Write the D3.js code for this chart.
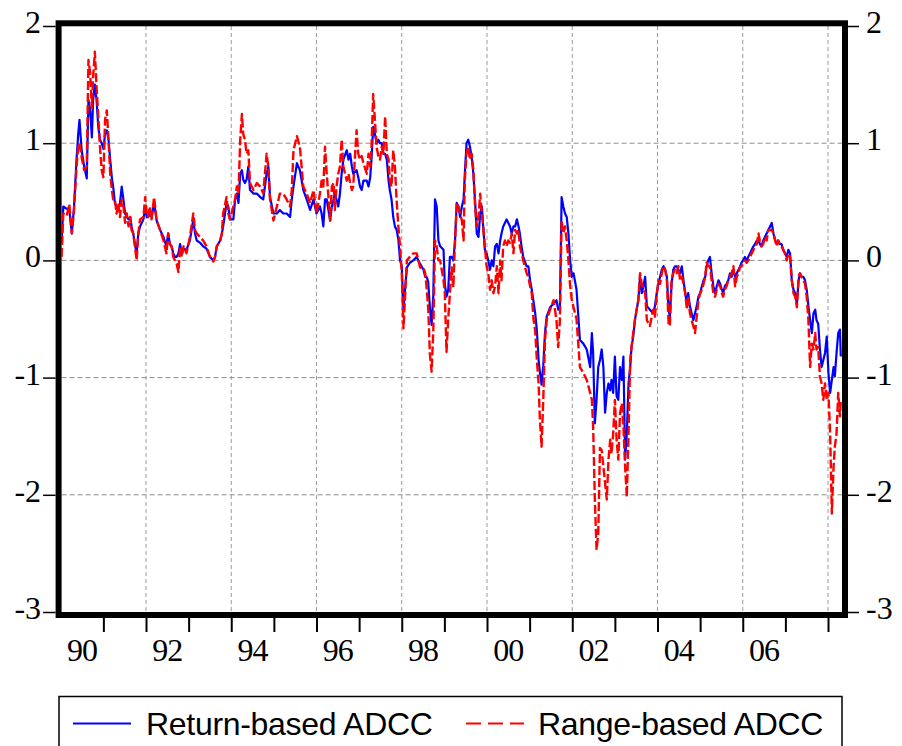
<!DOCTYPE html>
<html>
<head>
<meta charset="utf-8">
<script src="https://cdn.jsdelivr.net/npm/d3@7"></script>
<style>
  html, body { margin: 0; padding: 0; background: #fff; }
  svg { display: block; }
</style>
</head>
<body>
<svg id="chart" width="902" height="746"></svg>
<script>
// Observation dates (decimal years)
const dates = [
  1990.02,1990.06,1990.14,1990.20,1990.26,1990.31,1990.37,1990.41,1990.44,1990.49,
  1990.55,1990.61,1990.65,1990.69,1990.73,1990.76,1990.80,1990.84,1990.88,1990.92,
  1990.96,1991.00,1991.04,1991.08,1991.12,1991.16,1991.20,1991.23,1991.27,1991.31,
  1991.35,1991.39,1991.43,1991.47,1991.51,1991.55,1991.59,1991.63,1991.66,1991.70,
  1991.74,1991.78,1991.82,1991.86,1991.94,1991.98,1992.02,1992.05,1992.09,1992.13,
  1992.19,1992.25,1992.33,1992.41,1992.48,1992.52,1992.56,1992.60,1992.64,1992.68,
  1992.72,1992.76,1992.80,1992.84,1992.88,1992.95,1993.03,1993.11,1993.15,1993.19,
  1993.27,1993.34,1993.42,1993.50,1993.58,1993.62,1993.66,1993.74,1993.78,1993.81,
  1993.89,1993.93,1993.97,1994.05,1994.09,1994.13,1994.17,1994.21,1994.25,1994.28,
  1994.32,1994.36,1994.40,1994.44,1994.52,1994.60,1994.68,1994.75,1994.83,1994.87,
  1994.91,1994.99,1995.07,1995.14,1995.22,1995.30,1995.38,1995.42,1995.46,1995.54,
  1995.61,1995.69,1995.77,1995.85,1995.93,1996.00,1996.08,1996.12,1996.16,1996.20,
  1996.24,1996.32,1996.36,1996.40,1996.43,1996.47,1996.51,1996.55,1996.59,1996.63,
  1996.71,1996.75,1996.79,1996.83,1996.86,1996.94,1996.98,1997.02,1997.06,1997.10,
  1997.18,1997.22,1997.26,1997.29,1997.33,1997.37,1997.41,1997.45,1997.49,1997.53,
  1997.57,1997.61,1997.65,1997.69,1997.72,1997.76,1997.80,1997.84,1997.88,1997.92,
  1997.96,1998.00,1998.04,1998.12,1998.19,1998.27,1998.35,1998.43,1998.51,1998.55,
  1998.58,1998.62,1998.66,1998.70,1998.74,1998.78,1998.82,1998.86,1998.90,1998.98,
  1999.01,1999.05,1999.09,1999.13,1999.17,1999.21,1999.25,1999.29,1999.33,1999.37,
  1999.41,1999.45,1999.48,1999.52,1999.56,1999.60,1999.64,1999.68,1999.72,1999.76,
  1999.80,1999.84,1999.88,1999.91,1999.95,1999.99,2000.03,2000.07,2000.11,2000.15,
  2000.19,2000.23,2000.27,2000.31,2000.34,2000.38,2000.42,2000.46,2000.50,2000.54,
  2000.58,2000.62,2000.66,2000.70,2000.74,2000.77,2000.81,2000.85,2000.93,2000.97,
  2001.01,2001.05,2001.09,2001.13,2001.17,2001.21,2001.24,2001.28,2001.32,2001.36,
  2001.40,2001.48,2001.56,2001.63,2001.67,2001.71,2001.75,2001.79,2001.83,2001.87,
  2001.91,2001.95,2001.99,2002.03,2002.10,2002.18,2002.26,2002.34,2002.42,2002.46,
  2002.49,2002.53,2002.57,2002.61,2002.65,2002.69,2002.73,2002.77,2002.81,2002.85,
  2002.89,2002.92,2002.96,2003.00,2003.04,2003.08,2003.12,2003.16,2003.20,2003.24,
  2003.28,2003.32,2003.36,2003.39,2003.43,2003.47,2003.51,2003.55,2003.59,2003.63,
  2003.67,2003.71,2003.75,2003.82,2003.90,2003.94,2003.98,2004.02,2004.06,2004.10,
  2004.14,2004.18,2004.22,2004.26,2004.29,2004.33,2004.37,2004.41,2004.45,2004.49,
  2004.53,2004.57,2004.61,2004.65,2004.69,2004.72,2004.76,2004.80,2004.84,2004.88,
  2004.92,2004.96,2005.00,2005.04,2005.08,2005.12,2005.15,2005.19,2005.23,2005.27,
  2005.31,2005.35,2005.39,2005.43,2005.47,2005.51,2005.54,2005.58,2005.62,2005.66,
  2005.70,2005.74,2005.78,2005.82,2005.86,2005.90,2005.94,2005.97,2006.01,2006.05,
  2006.09,2006.13,2006.17,2006.21,2006.25,2006.29,2006.33,2006.37,2006.40,2006.44,
  2006.48,2006.52,2006.56,2006.60,2006.64,2006.68,2006.72,2006.76,2006.80,2006.83,
  2006.87,2006.91,2006.95,2006.99,2007.03,2007.07,2007.11,2007.15,2007.19,2007.23,
  2007.27,2007.31,2007.34,2007.38,2007.42,2007.46,2007.50,2007.54,2007.58,2007.62,
  2007.66,2007.70,2007.73,2007.77,2007.81,2007.85,2007.89,2007.93,2007.97,2008.01,
  2008.05,2008.09,2008.13,2008.16,2008.20,2008.24,2008.28,2008.30
];

// Return-based ADCC
const returnBased = [
  0.15,0.46,0.44,0.43,0.23,0.45,0.86,1.08,1.20,0.94,
  0.80,0.70,1.37,1.28,1.05,1.37,1.50,1.37,1.14,1.03,
  1.00,0.95,1.08,1.11,1.03,0.86,0.70,0.63,0.49,0.46,
  0.43,0.49,0.63,0.52,0.40,0.37,0.35,0.37,0.29,0.23,
  0.14,0.06,0.23,0.29,0.35,0.46,0.37,0.37,0.40,0.37,
  0.49,0.34,0.26,0.20,0.12,0.23,0.14,0.12,0.06,0.03,
  0.03,0.06,0.14,0.06,0.10,0.09,0.17,0.35,0.23,0.17,
  0.15,0.12,0.10,0.03,0.00,0.03,0.12,0.17,0.23,0.29,
  0.49,0.46,0.35,0.35,0.52,0.57,0.49,0.74,0.77,0.69,
  0.66,0.69,0.80,0.60,0.57,0.57,0.54,0.52,0.74,0.80,
  0.54,0.40,0.40,0.43,0.40,0.40,0.37,0.52,0.63,0.83,
  0.77,0.60,0.52,0.43,0.52,0.40,0.46,0.40,0.29,0.52,
  0.52,0.34,0.46,0.52,0.57,0.52,0.46,0.57,0.74,0.86,
  0.94,0.86,0.91,0.80,0.74,0.77,0.71,0.63,0.60,0.68,
  0.68,0.63,0.71,0.86,1.14,1.08,1.00,1.03,1.00,1.00,
  0.91,0.91,0.86,0.68,0.60,0.52,0.37,0.29,0.26,0.18,
  0.00,-0.05,-0.42,-0.06,-0.02,0.00,0.03,-0.03,-0.08,-0.14,
  -0.14,-0.18,-0.40,-0.55,-0.30,0.52,0.46,0.17,0.12,0.09,
  -0.20,-0.31,-0.25,0.03,0.03,0.00,0.17,0.49,0.46,0.37,
  0.46,0.52,0.74,1.00,1.03,0.97,0.88,0.74,0.51,0.23,
  0.20,0.40,0.46,0.29,0.09,0.06,0.00,-0.08,0.00,-0.05,
  0.12,0.14,0.06,0.17,0.23,0.29,0.32,0.35,0.32,0.29,
  0.23,0.29,0.29,0.35,0.29,0.23,0.12,0.03,-0.05,-0.05,
  -0.17,-0.25,-0.35,-0.45,-0.60,-0.85,-0.95,-1.06,-0.90,-0.62,
  -0.48,-0.40,-0.37,-0.34,-0.42,-0.40,0.54,0.46,0.40,0.37,
  0.23,0.00,-0.14,-0.11,-0.25,-0.68,-0.71,-0.76,-0.91,-0.62,
  -0.79,-1.39,-1.19,-0.91,-0.85,-0.76,-0.91,-1.30,-1.13,-1.05,
  -1.11,-1.02,-1.13,-0.82,-1.16,-1.19,-0.91,-1.02,-0.82,-1.70,
  -1.48,-1.05,-0.91,-0.74,-0.65,-0.51,-0.42,-0.34,-0.14,-0.28,
  -0.22,-0.14,-0.39,-0.42,-0.45,-0.39,-0.28,-0.20,-0.14,-0.08,
  -0.05,-0.08,-0.14,-0.42,-0.48,-0.20,-0.08,-0.05,-0.05,-0.08,
  -0.11,-0.05,-0.17,-0.28,-0.37,-0.28,-0.39,-0.45,-0.51,-0.45,
  -0.39,-0.31,-0.28,-0.22,-0.17,-0.14,-0.05,0.00,0.03,-0.11,
  -0.22,-0.28,-0.22,-0.17,-0.20,-0.25,-0.28,-0.22,-0.20,-0.17,
  -0.11,-0.14,-0.08,-0.14,-0.11,-0.08,-0.05,-0.02,0.00,0.03,
  0.00,0.03,0.06,0.09,0.12,0.14,0.17,0.17,0.14,0.12,
  0.17,0.20,0.23,0.26,0.29,0.32,0.23,0.17,0.14,0.17,
  0.14,0.14,0.09,0.06,0.03,0.09,0.06,-0.17,-0.25,-0.28,
  -0.37,-0.17,-0.11,-0.14,-0.14,-0.17,-0.25,-0.39,-0.51,-0.62,
  -0.45,-0.42,-0.51,-0.54,-0.76,-0.91,-0.85,-0.79,-0.65,-0.96,
  -1.13,-1.02,-0.91,-0.99,-0.79,-0.62,-0.59,-0.82
];

// Range-based ADCC
const rangeBased = [
  0.03,0.40,0.38,0.48,0.23,0.42,0.80,0.97,1.00,0.88,
  0.77,0.80,1.71,1.60,1.30,1.57,1.78,1.48,1.23,0.97,
  0.77,0.71,1.20,1.28,1.03,0.74,0.60,0.52,0.52,0.40,
  0.49,0.37,0.52,0.46,0.32,0.40,0.29,0.37,0.26,0.23,
  0.12,0.00,0.23,0.35,0.37,0.54,0.40,0.37,0.46,0.35,
  0.54,0.34,0.26,0.17,0.06,0.23,0.14,0.12,0.03,0.00,
  -0.03,-0.10,0.12,0.03,0.12,0.06,0.20,0.40,0.26,0.23,
  0.20,0.17,0.12,0.03,-0.01,0.03,0.12,0.17,0.23,0.40,
  0.54,0.40,0.35,0.46,0.52,0.63,0.57,1.03,1.25,1.08,
  1.03,0.91,0.94,0.66,0.60,0.66,0.63,0.57,0.91,0.80,
  0.52,0.34,0.46,0.57,0.57,0.52,0.46,0.60,0.94,1.06,
  0.97,0.63,0.57,0.49,0.60,0.40,0.57,0.68,0.63,0.97,
  0.74,0.34,0.63,0.66,0.43,0.63,0.74,0.80,1.03,0.80,
  0.68,0.74,0.66,0.60,0.63,1.11,0.91,0.86,0.89,0.83,
  0.74,0.91,0.80,0.97,1.42,1.20,0.97,0.89,0.86,0.97,
  0.91,1.23,0.91,0.86,0.68,0.63,0.94,0.80,0.51,0.29,
  0.12,-0.11,-0.58,0.00,0.03,0.06,0.06,-0.06,-0.06,-0.11,
  -0.22,-0.40,-0.80,-0.95,-0.60,0.17,0.12,0.00,0.00,-0.17,
  -0.28,-0.78,-0.50,-0.28,-0.06,-0.23,0.17,0.49,0.46,0.40,
  0.34,0.17,0.69,0.91,0.97,0.86,0.91,0.77,0.46,0.29,
  0.37,0.57,0.40,0.29,0.12,-0.05,-0.11,-0.25,-0.17,-0.28,
  -0.22,-0.05,-0.28,0.00,-0.17,0.12,0.17,0.12,0.17,0.15,
  0.23,0.06,0.26,0.23,0.26,0.12,0.06,0.00,-0.11,-0.14,
  -0.22,-0.28,-0.50,-0.60,-0.85,-1.05,-1.35,-1.59,-1.19,-0.68,
  -0.51,-0.42,-0.34,-0.51,-0.74,-0.51,0.34,0.23,0.29,0.17,
  0.00,-0.22,-0.34,-0.40,-0.50,-0.91,-0.96,-1.02,-1.13,-1.19,
  -1.42,-2.04,-2.47,-2.33,-1.60,-1.62,-1.76,-1.90,-2.04,-1.70,
  -1.53,-1.65,-1.48,-1.19,-1.53,-1.70,-1.31,-1.22,-1.42,-1.76,
  -2.02,-1.48,-0.85,-0.74,-0.62,-0.51,-0.42,-0.34,-0.11,-0.20,
  -0.25,-0.28,-0.51,-0.56,-0.42,-0.48,-0.31,-0.17,-0.20,-0.11,
  -0.05,-0.08,-0.17,-0.54,-0.56,-0.17,-0.11,-0.08,-0.11,-0.05,
  -0.17,-0.14,-0.20,-0.28,-0.42,-0.31,-0.45,-0.51,-0.56,-0.62,
  -0.48,-0.34,-0.28,-0.25,-0.20,-0.14,-0.02,-0.05,-0.05,-0.17,
  -0.28,-0.31,-0.25,-0.20,-0.22,-0.28,-0.31,-0.25,-0.22,-0.17,
  -0.14,-0.11,-0.05,-0.22,-0.14,-0.11,-0.05,-0.05,-0.02,0.00,
  -0.02,0.00,0.03,0.06,0.09,0.12,0.14,0.23,0.17,0.12,
  0.14,0.20,0.17,0.26,0.26,0.26,0.23,0.17,0.12,0.17,
  0.14,0.12,0.09,0.06,0.00,0.06,0.03,-0.17,-0.28,-0.31,
  -0.40,-0.14,-0.11,-0.14,-0.17,-0.20,-0.31,-0.51,-0.91,-0.71,
  -0.76,-0.62,-0.76,-0.74,-0.99,-1.05,-1.19,-1.05,-1.19,-1.13,
  -1.48,-2.16,-1.76,-1.59,-1.48,-1.13,-1.33,-1.19
];

const yTicks = [-3, -2, -1, 0, 1, 2];
const yearTicks = d3.range(1991, 2009);          // tick marks at each year start
const yearLabels = d3.range(1990, 2007, 2);      // labelled years
const gridYears = d3.range(1992, 2009, 2);
const gridValues = [-2, -1, 0, 1];
const seriesNames = ["Return-based ADCC", "Range-based ADCC"];

const svg = d3.select("#chart");

const x = d3.scaleLinear().domain([1990, 2008.3]).range([60.75, 840.8]);
const y = d3.scaleLinear().domain([-3, 2]).range([612, 26]);

const serif = "'Liberation Serif', 'Times New Roman', serif";
const sans = "'Liberation Sans', Arial, sans-serif";

// clip for plot area
svg.append("defs").append("clipPath").attr("id", "plotClip")
  .append("rect").attr("x", 61.6).attr("y", 26.3).attr("width", 780.4).attr("height", 585.7);

// gridlines
const grid = svg.append("g");
grid.selectAll("line.v").data(gridYears).join("line")
  .attr("class", "v")
  .attr("x1", d => x(d)).attr("x2", d => x(d))
  .attr("y1", y(2)).attr("y2", y(-3))
  .attr("stroke", "#9a9a9a").attr("stroke-width", 1)
  .attr("stroke-dasharray", "4,3");
grid.selectAll("line.h").data(gridValues).join("line")
  .attr("class", "h")
  .attr("x1", 61.6).attr("x2", 842)
  .attr("y1", d => y(d)).attr("y2", d => y(d))
  .attr("stroke", "#8c8c8c").attr("stroke-width", 1)
  .attr("stroke-dasharray", "5,3");

// series lines
const rows = dates.map((t, i) => ({ t, r: returnBased[i], g: rangeBased[i] }));
const plot = svg.append("g").attr("clip-path", "url(#plotClip)");
const lineR = d3.line().x(d => x(d.t)).y(d => y(d.r));
const lineG = d3.line().x(d => x(d.t)).y(d => y(d.g));

plot.append("path").datum(rows).attr("d", lineR)
  .attr("fill", "none").attr("stroke", "#0000ff").attr("stroke-width", 2.2)
  .attr("stroke-linejoin", "round");
plot.append("path").datum(rows).attr("d", lineG)
  .attr("fill", "none").attr("stroke", "#ff0000").attr("stroke-width", 2.4)
  .attr("stroke-dasharray", "9,3").attr("stroke-linejoin", "round");

// frame
svg.append("rect")
  .attr("x", 58.6).attr("y", 23.3).attr("width", 786.4).attr("height", 591.7)
  .attr("fill", "none").attr("stroke", "#000").attr("stroke-width", 6);

// tick labels use a plain hyphen for negatives
const fmt = d => String(d);

// left axis
const leftAxis = svg.append("g").attr("transform", "translate(55.6,0)")
  .call(d3.axisLeft(y).tickValues(yTicks).tickSize(12.5).tickPadding(2).tickFormat(fmt));
// right axis
const rightAxis = svg.append("g").attr("transform", "translate(848,0)")
  .call(d3.axisRight(y).tickValues(yTicks).tickSize(11).tickPadding(7).tickFormat(fmt));

[leftAxis, rightAxis].forEach(g => {
  g.select(".domain").remove();
  g.selectAll(".tick line").attr("stroke", "#000").attr("stroke-width", 1.5);
  g.selectAll(".tick text")
    .attr("font-family", serif).attr("font-size", 32).attr("fill", "#000")
    .attr("dy", "0.2em");
});

// bottom axis: year tick marks
const bottomAxis = svg.append("g").attr("transform", "translate(0,617)")
  .call(d3.axisBottom(x).tickValues(yearTicks).tickSize(15).tickFormat(""));
bottomAxis.select(".domain").remove();
bottomAxis.selectAll(".tick line").attr("stroke", "#000").attr("stroke-width", 2);

// bottom axis: labels centred within labelled years
svg.append("g").selectAll("text").data(yearLabels).join("text")
  .attr("x", d => x(d + 0.5)).attr("y", 661)
  .attr("text-anchor", "middle")
  .attr("font-family", serif).attr("font-size", 32).attr("letter-spacing", -1)
  .attr("fill", "#000")
  .text(d => String(d % 100).padStart(2, "0"));

// legend
const legend = svg.append("g");
legend.append("rect")
  .attr("x", 59).attr("y", 696.5).attr("width", 783).attr("height", 80)
  .attr("fill", "#fff").attr("stroke", "#000").attr("stroke-width", 1.5);

legend.append("line")
  .attr("x1", 73).attr("x2", 131).attr("y1", 723.5).attr("y2", 723.5)
  .attr("stroke", "#0000ff").attr("stroke-width", 2);
legend.append("text")
  .attr("x", 146).attr("y", 735)
  .attr("font-family", sans).attr("font-size", 32).attr("letter-spacing", -0.3)
  .attr("fill", "#000").text(seriesNames[0]);

legend.append("line")
  .attr("x1", 466).attr("x2", 524).attr("y1", 723.5).attr("y2", 723.5)
  .attr("stroke", "#ff0000").attr("stroke-width", 2)
  .attr("stroke-dasharray", "15,7");
legend.append("text")
  .attr("x", 538).attr("y", 735)
  .attr("font-family", sans).attr("font-size", 32).attr("letter-spacing", -0.3)
  .attr("fill", "#000").text(seriesNames[1]);
</script>
</body>
</html>
